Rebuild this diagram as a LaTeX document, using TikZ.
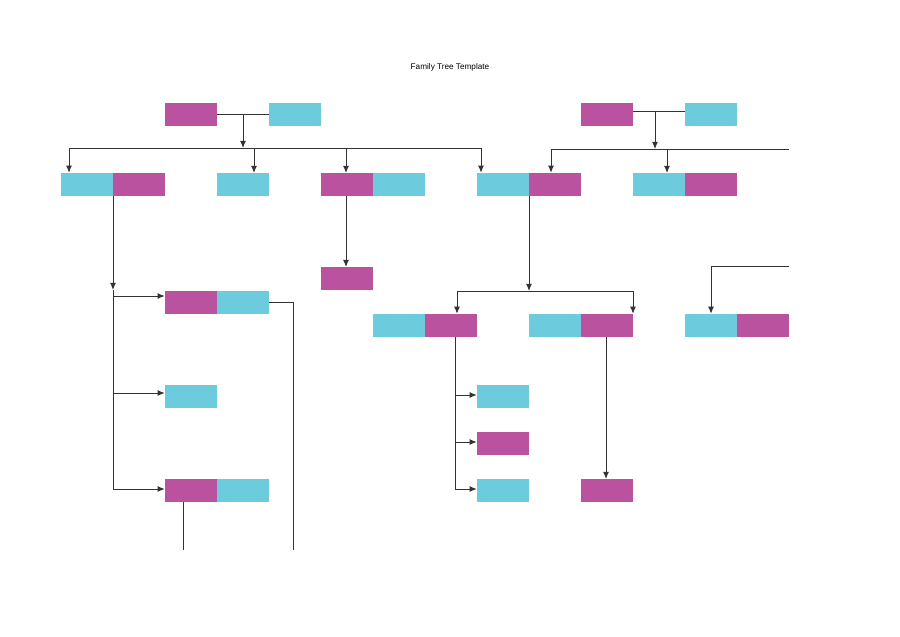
\documentclass[tikz,border=0pt]{standalone}
\usepackage{fontspec}
\setsansfont{Liberation Sans}
\usetikzlibrary{arrows.meta}
\definecolor{him}{RGB}{108,204,222}
\definecolor{her}{RGB}{186,82,160}
\begin{document}
\begin{tikzpicture}[x=0.03cm, y=-0.03cm,
  person/.style={inner sep=0, minimum width=1.56cm, minimum height=0.69cm},
  male/.style={person, fill=him},
  female/.style={person, fill=her},
  link/.style={draw=black!80, line width=0.8pt},
  >={Latex[length=6pt,width=5pt]}]
\useasboundingbox (0,0) rectangle (900,636);
\node[font=\sffamily\fontsize{7}{8}\selectfont] (title) at (450,67) {Family Tree Template};
% first generation
\node[female] (gf1) at (191,114.5) {};
\node[male] (gm1) at (295,114.5) {};
\node[female] (gf2) at (607,114.5) {};
\node[male] (gm2) at (711,114.5) {};
% second generation
\node[male] (a1) at (87,184.5) {};
\node[female] (a2) at (139,184.5) {};
\node[male] (b1) at (243,184.5) {};
\node[female] (c1) at (347,184.5) {};
\node[male] (c2) at (399,184.5) {};
\node[male] (d1) at (503,184.5) {};
\node[female] (d2) at (555,184.5) {};
\node[male] (e1) at (659,184.5) {};
\node[female] (e2) at (711,184.5) {};
% third generation
\node[female] (f1) at (191,302.5) {};
\node[male] (f2) at (243,302.5) {};
\node[male] (g1) at (191,396) {};
\node[female] (h1) at (191,490.5) {};
\node[male] (h2) at (243,490.5) {};
\node[female] (i1) at (347,278.5) {};
\node[male] (k1) at (399,325.5) {};
\node[female] (k2) at (451,325.5) {};
\node[male] (l1) at (555,325.5) {};
\node[female] (l2) at (607,325.5) {};
\node[male] (n1) at (711,325.5) {};
\node[female] (n2) at (763,325.5) {};
% fourth generation
\node[male] (p1) at (503,396) {};
\node[female] (q1) at (503,443.5) {};
\node[male] (r1) at (503,490.5) {};
\node[female] (s1) at (607,490.5) {};
% joints
\coordinate (j1) at (243,114.5);
\coordinate (bus1l) at (69,148);
\coordinate (bus1r) at (481,148);
\coordinate (j2) at (655,111);
\coordinate (bus2l) at (551,149);
\coordinate (bus2r) at (789,149);
\coordinate (ja) at (113,290);
\coordinate (jf) at (293,302.5);
\coordinate (jh) at (293,550);
\coordinate (jd) at (529,291);
\coordinate (bus3l) at (457,291);
\coordinate (bus3r) at (633,291);
\coordinate (jn) at (789,266);
\coordinate (jn2) at (711,266);
% left family
\draw[link] (gf1.east) -- (gm1.west);
\draw[link,->] (j1) -- (j1 |- bus1l);
\draw[link] (bus1l) -- (bus1r);
\draw[link,->] (bus1l) -- (bus1l |- a1.north);
\draw[link,->] (254,148) -- (254,173);
\draw[link,->] (346,148) -- (346,173);
\draw[link,->] (bus1r) -- (bus1r |- d1.north);
% right family
\draw[link] (gf2.east |- j2) -- (gm2.west |- j2);
\draw[link,->] (j2) -- (j2 |- bus2l);
\draw[link] (bus2l) -- (bus2r);
\draw[link,->] (bus2l) -- (bus2l |- d2.north);
\draw[link,->] (667,149) -- (667,173);
% children of a
\draw[link,->] (ja |- a2.south) -- (ja);
\draw[link] (ja) -- (113,489);
\draw[link,->] (113,296) -- (f1.west |- 0,296);
\draw[link,->] (113,393) -- (g1.west |- 0,393);
\draw[link,->] (113,489) -- (h1.west |- 0,489);
\draw[link] (f2.east) -- (jf) -- (jh);
\draw[link] (183,502) -- (183,550);
% child of c
\draw[link,->] (346,196) -- (346,267);
% children of d
\draw[link,->] (jd |- d2.south) -- (jd);
\draw[link] (bus3l) -- (bus3r);
\draw[link,->] (bus3l) -- (bus3l |- k2.north);
\draw[link,->] (bus3r) -- (bus3r |- l2.north);
\draw[link] (455,337) -- (455,489);
\draw[link,->] (455,395) -- (p1.west |- 0,395);
\draw[link,->] (455,442) -- (q1.west |- 0,442);
\draw[link,->] (455,489) -- (r1.west |- 0,489);
\draw[link,->] (606,337) -- (606,479);
% right couple
\draw[link] (jn) -- (jn2);
\draw[link,->] (jn2) -- (jn2 |- n1.north);
\end{tikzpicture}
\end{document}
